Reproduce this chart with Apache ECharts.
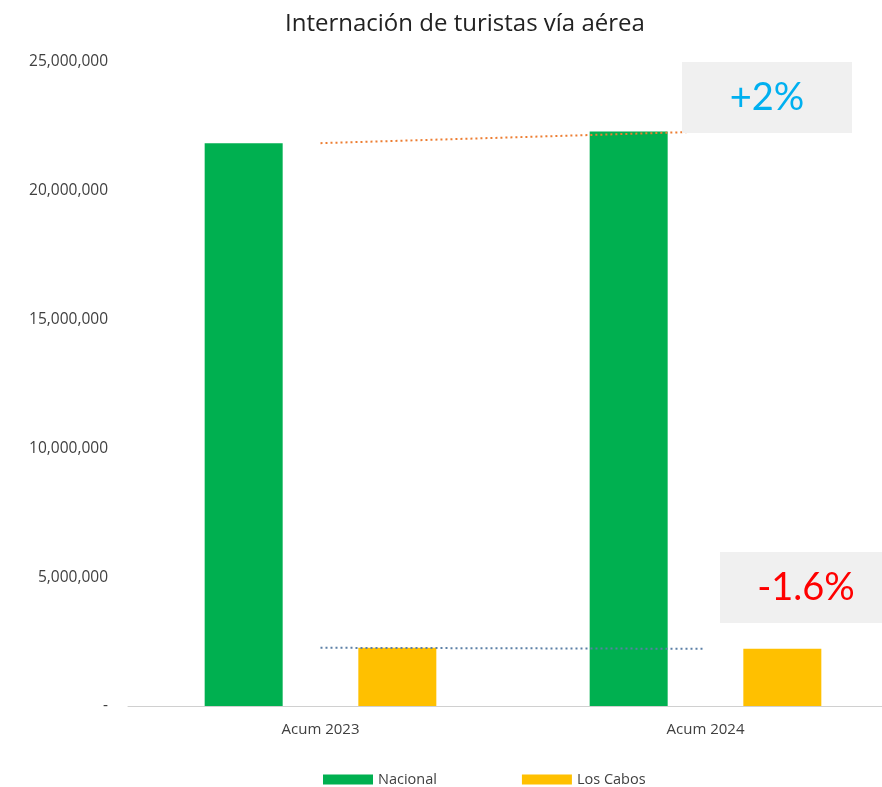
<!DOCTYPE html>
<html><head><meta charset="utf-8">
<script src="https://cdn.jsdelivr.net/npm/echarts@6/dist/echarts.min.js"></script>
<style>html,body{margin:0;padding:0;background:#fff;overflow:hidden}#c{width:900px;height:787px}</style>
</head><body><div id="c"></div>
<script>
const categories = ['Acum 2023', 'Acum 2024'];
const nacional = [21850000, 22300000];
const losCabos = [2260000, 2220000];
const yTicks = [0, 5000000, 10000000, 15000000, 20000000, 25000000];
const notes = ['+2%', '-1.6%'];

const chart = echarts.init(document.getElementById('c'));
const font = '"Open Sans", Lato, sans-serif';
const font2 = 'Lato, "Open Sans", sans-serif';
chart.setOption({
  animation: false,
  title: {text: 'Internación de turistas vía aérea', left: 280, top: 7,
    textStyle: {fontFamily: font, fontWeight: 'normal', fontSize: 24, color: '#222'}},
  legend: {top: 767, left: 318, itemWidth: 50, itemHeight: 10, itemGap: 85, icon: 'rect',
    data: ['Nacional', 'Los Cabos'],
    textStyle: {fontFamily: font, fontSize: 14.5, color: '#404040'}},
  grid: {left: 128, right: 2, top: 62, bottom: 81},
  xAxis: {type: 'category', data: categories,
    axisLine: {lineStyle: {color: '#d0d0d0'}}, axisTick: {show: false},
    axisLabel: {fontFamily: font, fontSize: 15, color: '#404040', margin: 16}},
  yAxis: {type: 'value', min: yTicks[0], max: yTicks[yTicks.length - 1], interval: 5000000,
    splitLine: {show: false}, axisLine: {show: false}, axisTick: {show: false},
    axisLabel: {fontFamily: font, fontSize: 15.5, color: '#404040', margin: 20,
      formatter: v => v === 0 ? '-' : v.toLocaleString('en-US')}},
  series: [
    {name: 'Nacional', type: 'bar', data: nacional, barWidth: 78, barGap: '97%',
      itemStyle: {color: '#00B050'}},
    {name: 'Los Cabos', type: 'bar', data: losCabos, barWidth: 78,
      itemStyle: {color: '#FFC000'}},
    {name: 'tN', type: 'line', data: nacional, symbol: 'none', z: 5,
      lineStyle: {color: '#ED7D31', width: 2, type: [2, 3]}},
    {name: 'tL', type: 'line', data: losCabos, symbol: 'none', z: 5,
      lineStyle: {color: '#5B7FA6', width: 2, type: [2, 3]}}
  ],
  graphic: [
    {type: 'rect', left: 682, top: 62, shape: {width: 170, height: 71}, style: {fill: '#F0F0F0'}, z: 10},
    {type: 'text', x: 767, y: 98, z: 11, style: {text: notes[0], fill: '#00B0F0',
      font: '38px ' + font2, textAlign: 'center', textVerticalAlign: 'middle'}},
    {type: 'rect', left: 720, top: 552, shape: {width: 162, height: 71}, style: {fill: '#F0F0F0'}, z: 10},
    {type: 'text', x: 806, y: 588, z: 11, style: {text: notes[1], fill: '#FF0000',
      font: '38px ' + font2, textAlign: 'center', textVerticalAlign: 'middle'}}
  ]
});
</script></body></html>
